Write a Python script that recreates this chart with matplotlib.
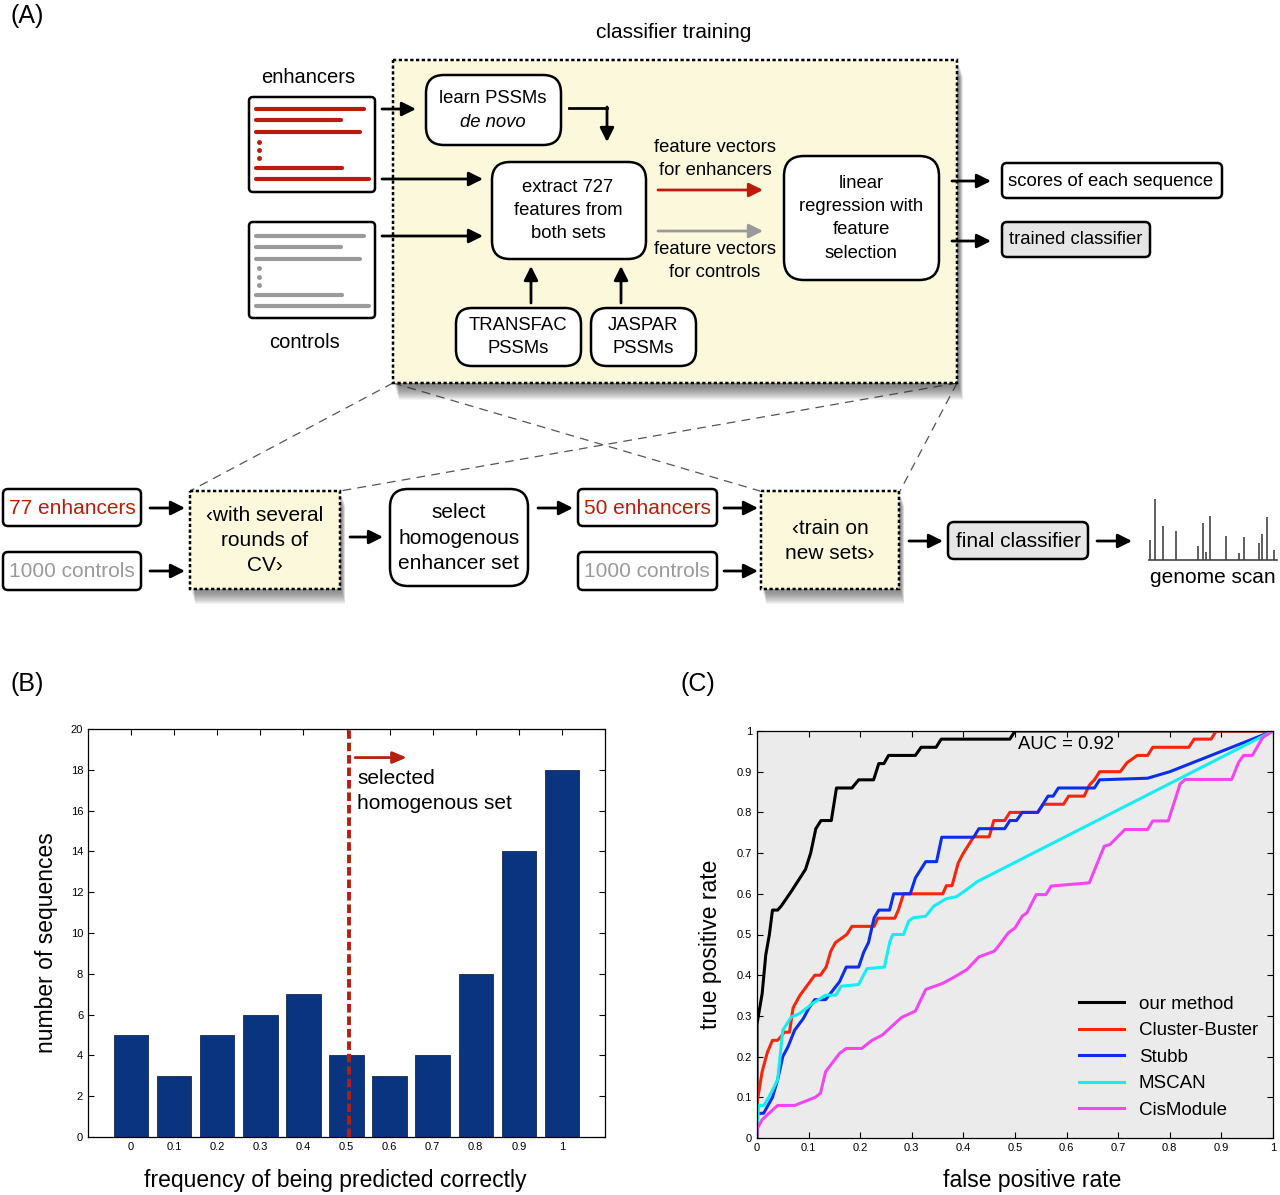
import numpy as np
import matplotlib
matplotlib.use('Agg')
import matplotlib.pyplot as plt
from matplotlib.patches import FancyBboxPatch, Rectangle

plt.rcParams['font.family'] = ['Liberation Sans', 'DejaVu Sans']

# ---------------- data ----------------
freq_bins = [0, 0.1, 0.2, 0.3, 0.4, 0.5, 0.6, 0.7, 0.8, 0.9, 1.0]
freq_labels = ['0', '0.1', '0.2', '0.3', '0.4', '0.5', '0.6', '0.7', '0.8', '0.9', '1']
seq_counts = [5, 3, 5, 6, 7, 4, 3, 4, 8, 14, 18]
cutoff = 0.505

roc_labels = ['our method', 'Cluster-Buster', 'Stubb', 'MSCAN', 'CisModule']
roc_colors = ['#000000', '#f5260c', '#0b2fe8', '#12eef2', '#f446f0']

roc_our = [(0, 0), (0, 0.28), (0.01, 0.355), (0.017, 0.45), (0.024, 0.5), (0.03, 0.56),
           (0.04, 0.56), (0.047, 0.57), (0.067, 0.607), (0.094, 0.66), (0.104, 0.70),
           (0.114, 0.76), (0.124, 0.78), (0.144, 0.78), (0.154, 0.86), (0.184, 0.86),
           (0.197, 0.88), (0.226, 0.88), (0.236, 0.92), (0.246, 0.92), (0.255, 0.94),
           (0.307, 0.94), (0.318, 0.96), (0.347, 0.96), (0.357, 0.98), (0.49, 0.98),
           (0.5, 1.0), (1.0, 1.0)]
roc_cb = [(0, 0), (0, 0.086), (0.01, 0.163), (0.02, 0.21), (0.03, 0.24), (0.04, 0.24),
          (0.047, 0.25), (0.053, 0.26), (0.063, 0.26), (0.07, 0.32), (0.083, 0.35),
          (0.112, 0.40), (0.123, 0.40), (0.134, 0.42), (0.143, 0.459), (0.152, 0.48),
          (0.174, 0.50), (0.184, 0.52), (0.227, 0.52), (0.234, 0.54), (0.267, 0.54),
          (0.274, 0.56), (0.284, 0.60), (0.36, 0.60), (0.367, 0.62), (0.378, 0.62),
          (0.39, 0.676), (0.40, 0.70), (0.42, 0.74), (0.45, 0.74), (0.459, 0.78),
          (0.48, 0.78), (0.49, 0.80), (0.544, 0.80), (0.555, 0.82), (0.594, 0.82),
          (0.604, 0.84), (0.634, 0.84), (0.644, 0.867), (0.654, 0.88), (0.664, 0.90),
          (0.704, 0.90), (0.717, 0.922), (0.737, 0.94), (0.757, 0.94), (0.767, 0.96),
          (0.837, 0.96), (0.847, 0.98), (0.88, 0.98), (0.89, 1.0), (1.0, 1.0)]
roc_stubb = [(0, 0), (0, 0.06), (0.013, 0.061), (0.03, 0.10), (0.04, 0.143), (0.05, 0.20),
             (0.06, 0.224), (0.073, 0.265), (0.09, 0.294), (0.1, 0.318), (0.112, 0.34),
             (0.133, 0.34), (0.16, 0.384), (0.173, 0.42), (0.197, 0.42), (0.207, 0.457),
             (0.216, 0.48), (0.227, 0.541), (0.236, 0.56), (0.257, 0.56), (0.265, 0.6),
             (0.297, 0.6), (0.307, 0.639), (0.327, 0.679), (0.348, 0.679), (0.358, 0.739),
             (0.42, 0.739), (0.43, 0.76), (0.48, 0.76), (0.49, 0.78), (0.503, 0.78),
             (0.514, 0.80), (0.544, 0.80), (0.564, 0.84), (0.574, 0.84), (0.584, 0.86),
             (0.654, 0.86), (0.664, 0.88), (0.757, 0.884), (0.80, 0.90), (1.0, 1.0)]
roc_mscan = [(0, 0), (0.003, 0.08), (0.013, 0.08), (0.023, 0.10), (0.04, 0.143), (0.05, 0.265),
             (0.067, 0.298), (0.083, 0.306), (0.107, 0.33), (0.133, 0.351), (0.153, 0.351),
             (0.163, 0.373), (0.197, 0.377), (0.213, 0.416), (0.247, 0.42), (0.257, 0.48),
             (0.263, 0.5), (0.284, 0.5), (0.294, 0.533), (0.303, 0.541), (0.327, 0.545),
             (0.343, 0.57), (0.367, 0.588), (0.387, 0.593), (0.407, 0.611), (0.427, 0.63),
             (1.0, 1.0)]
roc_cis = [(0, 0), (0.001, 0.024), (0.01, 0.045), (0.02, 0.057), (0.04, 0.08), (0.073, 0.08),
           (0.113, 0.10), (0.123, 0.11), (0.133, 0.163), (0.16, 0.208), (0.173, 0.22),
           (0.203, 0.22), (0.223, 0.24), (0.243, 0.253), (0.26, 0.273), (0.28, 0.296),
           (0.307, 0.312), (0.327, 0.365), (0.36, 0.38), (0.383, 0.396), (0.407, 0.414),
           (0.43, 0.445), (0.46, 0.459), (0.47, 0.475), (0.487, 0.504), (0.5, 0.516),
           (0.514, 0.545), (0.523, 0.553), (0.541, 0.598), (0.56, 0.598), (0.57, 0.619),
           (0.644, 0.627), (0.673, 0.717), (0.684, 0.721), (0.713, 0.758), (0.757, 0.758),
           (0.767, 0.779), (0.797, 0.779), (0.82, 0.87), (0.83, 0.881), (0.92, 0.881),
           (0.933, 0.922), (0.943, 0.94), (0.96, 0.94), (0.98, 0.984), (1.0, 1.0)]
roc_curves = [roc_our, roc_cb, roc_stubb, roc_mscan, roc_cis]
auc_text = 'AUC = 0.92'

# genome scan spikes (pixel x position, top y) - decorative icon
scan_x = [1150, 1155, 1163, 1176, 1198, 1203, 1206, 1210, 1226, 1239, 1244, 1259, 1262, 1267, 1274]
scan_top = [540, 499, 526, 531, 546, 523, 552, 516, 536, 553, 537, 543, 534, 517, 550]

# ---------------- figure ----------------
W, H = 1280, 1195
fig = plt.figure(figsize=(12.8, 11.95), dpi=100)
ax0 = fig.add_axes([0, 0, 1, 1])
ax0.set_xlim(0, W)
ax0.set_ylim(H, 0)
ax0.axis('off')
ax0.set_zorder(10)

RED = '#b81c0c'
GRAY = '#9a9a9a'
CREAM = '#fbf8dc'


def rbox(x0, y0, x1, y1, r=8, fc='white', ec='k', lw=1.8, ls='-', z=3):
    p = FancyBboxPatch((x0, y0), x1 - x0, y1 - y0,
                       boxstyle=f"round,pad=0,rounding_size={r}",
                       fc=fc, ec=ec, lw=lw, ls=ls, zorder=z)
    ax0.add_patch(p)


def shadow(x0, y0, x1, y1, n=10):
    for i in range(n):
        ax0.add_patch(Rectangle((x0 + 2 + i * 0.3, y0 + 4 + i), x1 - x0, y1 - y0,
                                fc='#303030', ec='none', alpha=0.055, zorder=1))


def arrow(x0, y0, x1, y1, color='k', lw=2.0):
    ax0.annotate('', xy=(x1, y1), xytext=(x0, y0),
                 arrowprops=dict(arrowstyle='-|>,head_length=0.6,head_width=0.3',
                                 color=color, lw=lw, shrinkA=0, shrinkB=0,
                                 mutation_scale=14), zorder=6)


def txt(x, y, s, size=13.3, color='k', ha='center', **kw):
    ax0.text(x, y, s, ha=ha, va='center', fontsize=size, color=color, zorder=7, **kw)


# panel labels
txt(10, 16, '(A)', size=18, ha='left')
txt(10, 684, '(B)', size=18, ha='left')
txt(681, 684, '(C)', size=18, ha='left')

# projection dashed lines
for (xa, ya, xb, yb) in [(393, 383, 190, 491), (957, 383, 340, 491),
                         (393, 383, 760, 491), (957, 383, 900, 491)]:
    ax0.plot([xa, xb], [ya, yb], color='#555555', lw=0.9, ls=(0, (7, 5)), zorder=0.5)

# classifier training big box
txt(674, 32, 'classifier training', size=15)
shadow(393, 60, 957, 383, n=14)
rbox(393, 60, 957, 383, r=0, fc=CREAM, ls=(0, (1.3, 1.0)), lw=1.8, z=2)

# enhancers / controls documents
txt(308, 77, 'enhancers', size=14.5)
txt(305, 342, 'controls', size=14.5)
rbox(249, 97, 375, 192, r=4, lw=1.8)
rbox(249, 222, 375, 318, r=4, lw=1.8)
doc_line_ends = [364, 341, 360, 342, 369]
enh_ys = [109, 120, 132, 168, 179]
ctl_ys = [236, 247, 259, 295, 306]
for xe, ye, yc in zip(doc_line_ends, enh_ys, ctl_ys):
    ax0.plot([256, xe], [ye, ye], color=RED, lw=3, solid_capstyle='round', zorder=4)
    ax0.plot([256, xe], [yc, yc], color=GRAY, lw=3, solid_capstyle='round', zorder=4)
ax0.plot([259, 259, 259], [142, 150, 158], 'o', color=RED, ms=2.5, zorder=4)
ax0.plot([259, 259, 259], [268, 277, 285], 'o', color=GRAY, ms=2.5, zorder=4)

# learn PSSMs de novo
rbox(426, 75, 561, 145, r=18)
txt(493, 98, 'learn PSSMs')
txt(493, 122, 'de novo', style='italic')
arrow(382, 109, 416, 109)
ax0.plot([569, 607], [108, 108], color='k', lw=2, zorder=6)
arrow(607, 107, 607, 142)

# extract box
rbox(492, 162, 646, 259, r=18)
txt(568, 187, 'extract 727')
txt(568, 210, 'features from')
txt(568, 233, 'both sets')
arrow(382, 179, 483, 179)
arrow(382, 236, 483, 236)

# TRANSFAC / JASPAR
rbox(456, 308, 581, 366, r=16)
txt(518, 325, 'TRANSFAC')
txt(518, 348, 'PSSMs')
rbox(591, 308, 696, 366, r=16)
txt(643, 325, 'JASPAR')
txt(643, 348, 'PSSMs')
arrow(531, 303, 531, 266)
arrow(621, 303, 621, 266)

# feature vectors
txt(715, 147, 'feature vectors')
txt(715, 170, 'for enhancers')
arrow(658, 190, 763, 190, color='#c0180c')
arrow(658, 231, 763, 231, color=GRAY)
txt(715, 249, 'feature vectors')
txt(715, 272, 'for controls')

# linear regression
rbox(784, 156, 939, 280, r=20)
txt(861, 183, 'linear')
txt(861, 206, 'regression with')
txt(861, 229, 'feature')
txt(861, 253, 'selection')
arrow(952, 181, 991, 181)
arrow(952, 241, 991, 241)
rbox(1002, 163, 1222, 198, r=5)
txt(1111, 181, 'scores of each sequence')
rbox(1002, 222, 1150, 257, r=5, fc='#e6e6e6')
txt(1076, 239, 'trained classifier')

# bottom row
BS = 15
rbox(3, 489, 141, 526, r=5)
txt(72, 508, '77 enhancers', size=BS, color=RED)
rbox(3, 552, 141, 590, r=5)
txt(72, 571, '1000 controls', size=BS, color=GRAY)
arrow(150, 508, 185, 508)
arrow(150, 571, 185, 571)

shadow(190, 491, 340, 589, n=12)
rbox(190, 491, 340, 589, r=0, fc=CREAM, ls=(0, (1.3, 1.0)), lw=1.8, z=2)
txt(265, 515, '\u2039with several', size=BS)
txt(265, 540, 'rounds of', size=BS)
txt(265, 565, 'CV\u203a', size=BS)
arrow(350, 537, 383, 537)

rbox(390, 489, 528, 586, r=18)
txt(459, 512, 'select', size=BS)
txt(459, 538, 'homogenous', size=BS)
txt(459, 563, 'enhancer set', size=BS)
arrow(538, 508, 573, 508)

rbox(578, 489, 717, 526, r=5)
txt(647, 508, '50 enhancers', size=BS, color=RED)
rbox(578, 552, 717, 590, r=5)
txt(647, 571, '1000 controls', size=BS, color=GRAY)
arrow(724, 508, 758, 508)
arrow(724, 571, 758, 571)

shadow(761, 491, 899, 589, n=12)
rbox(761, 491, 899, 589, r=0, fc=CREAM, ls=(0, (1.3, 1.0)), lw=1.8, z=2)
txt(830, 528, '\u2039train on', size=BS)
txt(830, 553, 'new sets\u203a', size=BS)
arrow(909, 541, 943, 541)

rbox(948, 522, 1088, 559, r=6, fc='#e6e6e6')
txt(1018, 541, 'final classifier', size=BS)
arrow(1097, 541, 1132, 541)

ax0.plot([1149, 1277], [560, 560], color='#444444', lw=1.2, zorder=4)
ax0.vlines(scan_x, [560] * len(scan_x), scan_top, color='#444444', lw=1.2, zorder=4)
txt(1213, 577, 'genome scan', size=BS)

# ---------------- panel B ----------------
axB = fig.add_axes([88 / W, 1 - 1137 / H, (605 - 88) / W, (1137 - 729) / H])
axB.bar(freq_bins, seq_counts, width=0.08, color='#0b3480', edgecolor='#18284a', lw=0.6, zorder=2)
axB.set_xlim(-0.1, 1.1)
axB.set_ylim(0, 20)
axB.set_xticks(freq_bins)
axB.set_xticklabels(freq_labels)
axB.set_yticks(range(0, 21, 2))
axB.tick_params(direction='in', top=True, right=True, labelsize=8, length=4, width=0.8)
for s in axB.spines.values():
    s.set_linewidth(0.9)
axB.axvline(cutoff, color='#b3200f', lw=2.8, ls=(0, (2.2, 1.0)), zorder=3)
axB.annotate('', xy=(0.64, 18.6), xytext=(0.52, 18.6),
             arrowprops=dict(arrowstyle='-|>,head_length=0.6,head_width=0.25',
                             color='#b3200f', lw=2, mutation_scale=14, shrinkA=0, shrinkB=0))
txt(357, 778, 'selected', size=15, ha='left')
txt(357, 803, 'homogenous set', size=15, ha='left')
txt(335, 1180, 'frequency of being predicted correctly', size=16.5)
ax0.text(47, 943, 'number of sequences', rotation=90, ha='center', va='center', fontsize=16.5)

# ---------------- panel C ----------------
axC = fig.add_axes([757 / W, 1 - 1138 / H, 516 / W, 407 / H])
axC.set_facecolor('#ebebeb')
for curve, lab, col in zip(roc_curves, roc_labels, roc_colors):
    xy = np.array(curve)
    axC.plot(xy[:, 0], xy[:, 1], color=col, lw=2.2, label=lab)
axC.set_xlim(0, 1)
axC.set_ylim(0, 1)
ticks = np.round(np.arange(0, 1.01, 0.1), 1)
tlabels = ['0', '0.1', '0.2', '0.3', '0.4', '0.5', '0.6', '0.7', '0.8', '0.9', '1']
axC.set_xticks(ticks)
axC.set_xticklabels(tlabels)
axC.set_yticks(ticks)
axC.set_yticklabels(tlabels)
axC.tick_params(direction='in', top=True, right=True, labelsize=8, length=4, width=0.8)
for s in axC.spines.values():
    s.set_linewidth(0.9)
axC.text(0.505, 0.968, auc_text, fontsize=13.3, va='center', ha='left')
axC.legend(loc='upper left', bbox_to_anchor=(0.624, 0.35), frameon=False, fontsize=13.5,
           handlelength=2.4, handletextpad=0.8, labelspacing=0.5, borderpad=0, borderaxespad=0)
txt(1032, 1180, 'false positive rate', size=16.5)
ax0.text(710, 944, 'true positive rate', rotation=90, ha='center', va='center', fontsize=16.5)

fig.savefig('out.png', dpi=100)
